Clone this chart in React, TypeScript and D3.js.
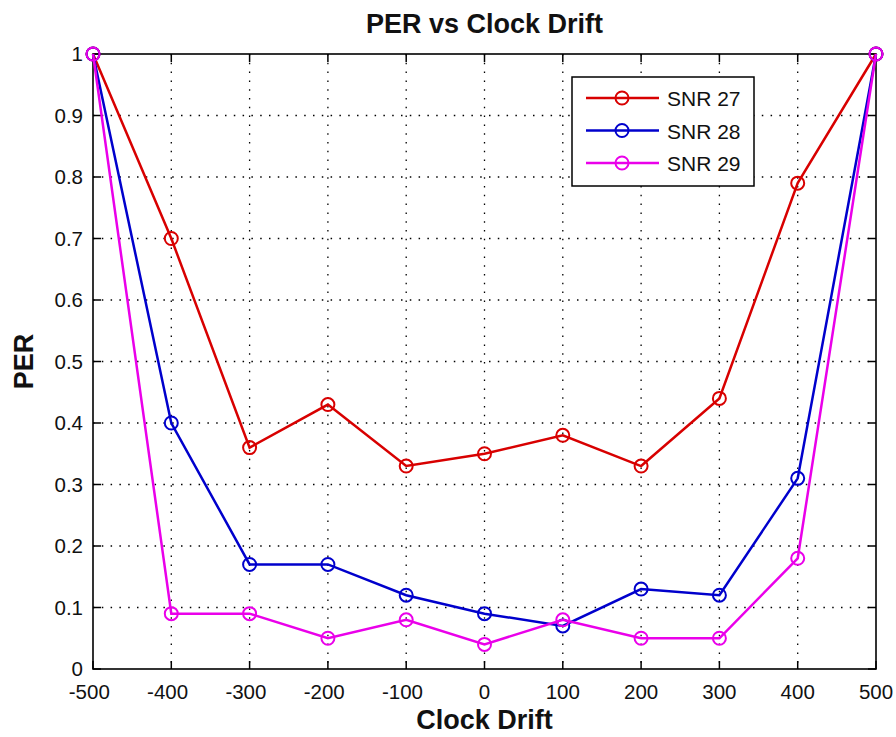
import React from "react";
import * as d3 from "d3";

const drift = [-500, -400, -300, -200, -100, 0, 100, 200, 300, 400, 500];
const snr27 = [1, 0.7, 0.36, 0.43, 0.33, 0.35, 0.38, 0.33, 0.44, 0.79, 1];
const snr28 = [1, 0.4, 0.17, 0.17, 0.12, 0.09, 0.07, 0.13, 0.12, 0.31, 1];
const snr29 = [1, 0.09, 0.09, 0.05, 0.08, 0.04, 0.08, 0.05, 0.05, 0.18, 1];
const seriesNames = ["SNR 27", "SNR 28", "SNR 29"];
const seriesColors = ["#d80000", "#0000cc", "#ea00ea"];
const xTicks = [-500, -400, -300, -200, -100, 0, 100, 200, 300, 400, 500];
const yTicks = [0, 0.1, 0.2, 0.3, 0.4, 0.5, 0.6, 0.7, 0.8, 0.9, 1];

export default function App() {
  const W = 896, H = 737;
  const L = 93, R = 876, T = 54, B = 669;
  const x = d3.scaleLinear().domain([-500, 500]).range([L, R]);
  const y = d3.scaleLinear().domain([0, 1]).range([B, T]);
  const series = [snr27, snr28, snr29];
  const line = d3.line<number>().x((_, i) => x(drift[i])).y((d) => y(d));
  const font = "Arial, 'Liberation Sans', sans-serif";
  const fs = 20.5;
  const fmt = (v: number) => (v === 0 || v === 1 ? String(v) : v.toFixed(1));
  return (
    <svg width={W} height={H} style={{ position: "absolute", left: 0, top: 0, background: "#fff" }}>
      <rect x={0} y={0} width={W} height={H} fill="#fff" />
      {/* grid */}
      {xTicks.slice(1, -1).map((t) => (
        <line key={"gx" + t} x1={x(t)} x2={x(t)} y1={T} y2={B} stroke="#000" strokeWidth={1.3} strokeDasharray="1.5,7.3" />
      ))}
      {yTicks.slice(1, -1).map((t) => (
        <line key={"gy" + t} x1={L} x2={R} y1={y(t)} y2={y(t)} stroke="#000" strokeWidth={1.3} strokeDasharray="1.5,7.3" />
      ))}
      {/* ticks */}
      {xTicks.map((t) => (
        <g key={"tx" + t}>
          <line x1={x(t)} x2={x(t)} y1={B} y2={B - 8} stroke="#000" strokeWidth={1.5} />
          <line x1={x(t)} x2={x(t)} y1={T} y2={T + 8} stroke="#000" strokeWidth={1.5} />
          <text x={x(t) - (t < 0 ? 3.7 : 0)} y={B + 30} textAnchor="middle" fontFamily={font} fontSize={fs} fill="#111">{t}</text>
        </g>
      ))}
      {yTicks.map((t) => (
        <g key={"ty" + t}>
          <line x1={L} x2={L + 8} y1={y(t)} y2={y(t)} stroke="#000" strokeWidth={1.5} />
          <line x1={R} x2={R - 8} y1={y(t)} y2={y(t)} stroke="#000" strokeWidth={1.5} />
          <text x={L - 10} y={y(t) + 7} textAnchor="end" fontFamily={font} fontSize={fs} fill="#111">{fmt(t)}</text>
        </g>
      ))}
      <rect x={L} y={T} width={R - L} height={B - T} fill="none" stroke="#000" strokeWidth={1.6} />
      {/* series */}
      {series.map((s, si) => (
        <g key={"s" + si}>
          <path d={line(s) || ""} fill="none" stroke={seriesColors[si]} strokeWidth={2.5} />
          {s.map((v, i) => (
            <circle key={i} cx={x(drift[i])} cy={y(v)} r={6.5} fill="none" stroke={seriesColors[si]} strokeWidth={2} />
          ))}
        </g>
      ))}
      {/* legend */}
      <rect x={572} y={77} width={182} height={109} fill="#fff" stroke="#000" strokeWidth={1.5} />
      {seriesNames.map((n, i) => {
        const ly = 98 + i * 32.5;
        return (
          <g key={n}>
            <line x1={586} x2={659} y1={ly} y2={ly} stroke={seriesColors[i]} strokeWidth={2.5} />
            <circle cx={622} cy={ly} r={6.5} fill="none" stroke={seriesColors[i]} strokeWidth={2} />
            <text x={667} y={ly + 8} fontFamily={font} fontSize={21} fill="#111">{n}</text>
          </g>
        );
      })}
      {/* titles */}
      <text x={(L + R) / 2} y={33} textAnchor="middle" fontFamily={font} fontWeight="bold" fontSize={27} fill="#111">PER vs Clock Drift</text>
      <text x={(L + R) / 2} y={729} textAnchor="middle" fontFamily={font} fontWeight="bold" fontSize={27} fill="#111">Clock Drift</text>
      <text transform={`translate(33,${(T + B) / 2}) rotate(-90)`} textAnchor="middle" fontFamily={font} fontWeight="bold" fontSize={27} fill="#111">PER</text>
    </svg>
  );
}
